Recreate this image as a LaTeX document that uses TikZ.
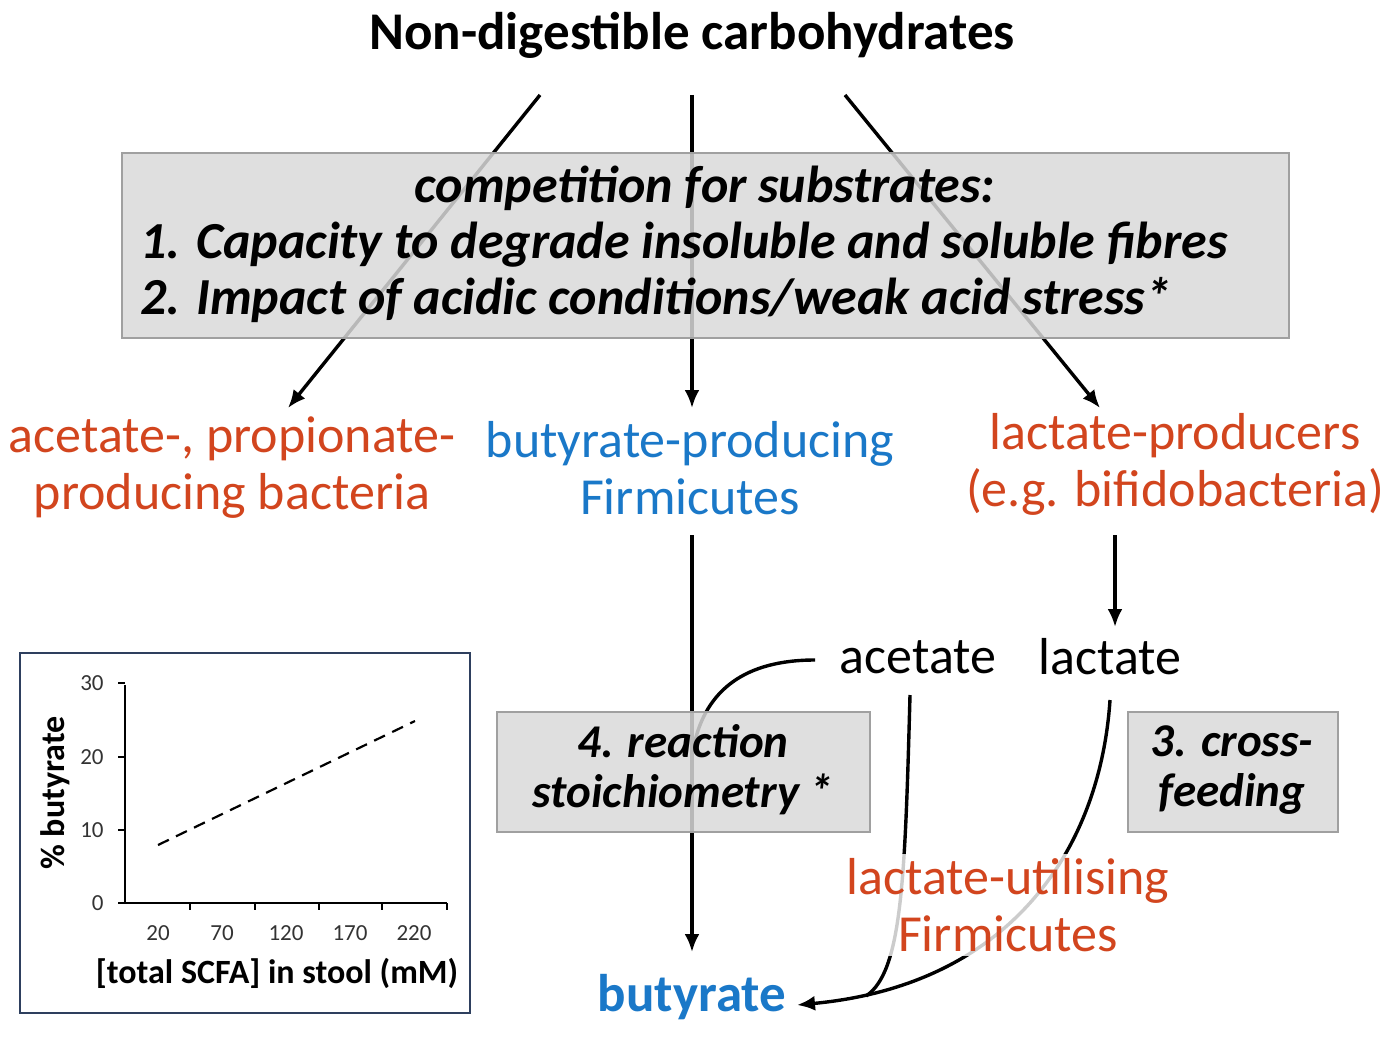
\documentclass[tikz,border=0pt]{standalone}
\usepackage{fontspec}
\setmainfont{Carlito}
\usetikzlibrary{arrows.meta}
\definecolor{orng}{HTML}{D2451E}
\definecolor{blu}{HTML}{1A78C8}
\definecolor{boxgray}{HTML}{D9D9D9}
\definecolor{boxedge}{HTML}{A0A0A0}
\definecolor{frameblue}{HTML}{2E3F5E}
\tikzset{
  big/.style={font=\fontsize{26}{28.5}\selectfont, inner sep=0pt},
  bigb/.style={font=\fontsize{26.5}{28.5}\selectfont\bfseries, inner sep=0pt},
  bigbi/.style={font=\fontsize{26}{28.5}\selectfont\bfseries\itshape, inner sep=0pt},
  midbi/.style={font=\fontsize{23.5}{25}\selectfont\bfseries\itshape, inner sep=0pt},
  arr/.style={line width=1.7pt, -{Latex[length=9pt,width=7.5pt]}},
  ln/.style={line width=1.7pt},
  graybox/.style={draw=boxedge, line width=0.8pt, fill=boxgray, fill opacity=0.85, text opacity=1, draw opacity=1},
  small/.style={font=\fontsize{11.5}{13}\selectfont, inner sep=0pt, text=black!80},
  smallb/.style={font=\fontsize{17}{19}\selectfont\bfseries, inner sep=0pt},
}
\begin{document}
\begin{tikzpicture}[x=0.5pt,y=-0.5pt]
\useasboundingbox (0,0) rectangle (1391,1038);
% title
\node[bigb] (title) at (692,35) {Non-digestible carbohydrates};
% arrow end coordinates
\coordinate (tl) at (540,95);
\coordinate (tm) at (692,95);
\coordinate (tr) at (845,95);
\coordinate (el) at (288,408);
\coordinate (em) at (692,408);
\coordinate (er) at (1100,408);
\draw[arr] (tl) -- (el);
\draw[arr] (tm) -- (em);
\draw[arr] (tr) -- (er);
% big box
\path[graybox] (122,153) rectangle (1289,338);
\node[bigbi] (comp) at (705,188) {competition for substrates:};
\node[bigbi, anchor=west] (c1) at (140,245) {1. Capacity to degrade insoluble and soluble fibres};
\node[bigbi, anchor=west] (c2) at (140,300) {2. Impact of acidic conditions/weak acid stress*};
% groups
\node[big, text=orng, align=center] (ap) at (232,468) {acetate-, propionate-\\producing bacteria};
\node[big, text=blu, align=center] (bp) at (690,468) {butyrate-producing\\Firmicutes};
\node[big, text=orng, align=center] (lp) at (1175,464) {lactate-producers\\(e.g. bifidobacteria)};
% lower
\node[big] (acet) at (918,657) {acetate};
\node[big] (lact) at (1110,657) {lactate};
\node[bigb, text=blu] (buty) at (692,997) {butyrate};
\coordinate (bs) at (692,535);
\coordinate (be) at (692,952);
\draw[arr] (bs) -- (be);
\coordinate (ls) at (1115,535);
\coordinate (le) at (1115,627);
\draw[arr] (ls) -- (le);
% curves
\coordinate (acL) at (815,660);
\coordinate (acJ) at (694,745);
\draw[ln] (acL) .. controls (745,660) and (706,690) .. (acJ);
\coordinate (acD) at (910,695);
\coordinate (laD) at (1110,700);
\coordinate (bt) at (797,1005);
\coordinate (mj) at (866,996);
\draw[ln] (acD) .. controls (905,880) and (902,972) .. (mj);
\draw[arr] (laD) .. controls (1100,850) and (1010,985) .. (bt);
% boxes 4 and 3
\path[graybox] (497,712) rectangle (870,832);
\node[midbi, align=center] (b4) at (683,770) {4. reaction\\stoichiometry *};
\path[graybox] (1128,712) rectangle (1338,832);
\node[midbi, align=center] (b3) at (1232,770) {3. cross-\\feeding};
% lactate-utilising label
\node[big, text=orng, align=center, fill=white, fill opacity=0.8, text opacity=1, inner sep=2pt] (lu) at (1008,905) {lactate-utilising\\Firmicutes};
% chart
\draw[frameblue, line width=1pt] (20,653) rectangle (470,1013);
\coordinate (o) at (125,903);
\draw[line width=0.8pt] (125,685) -- (o) -- (447,903);
\foreach \y/\v in {683/30,757/20,830/10,903/0}{
  \draw[line width=0.8pt] (118,\y) -- (125,\y);
  \node[small, anchor=east] at (104,\y) {\v};
}
\foreach \x in {190,255,319,382,447}{
  \draw[line width=0.8pt] (\x,903) -- (\x,910);
}
\foreach \x/\v in {158/20,222/70,286/120,350/170,414/220}{
  \node[small] at (\x,933) {\v};
}
\draw[line width=1.1pt, dash pattern=on 6pt off 4pt] (158,845) -- (415,721);
\node[smallb, rotate=90] (yl) at (55,793) {\% butyrate};
\node[smallb] (xl) at (277,973) {[total SCFA] in stool (mM)};
\end{tikzpicture}
\end{document}
